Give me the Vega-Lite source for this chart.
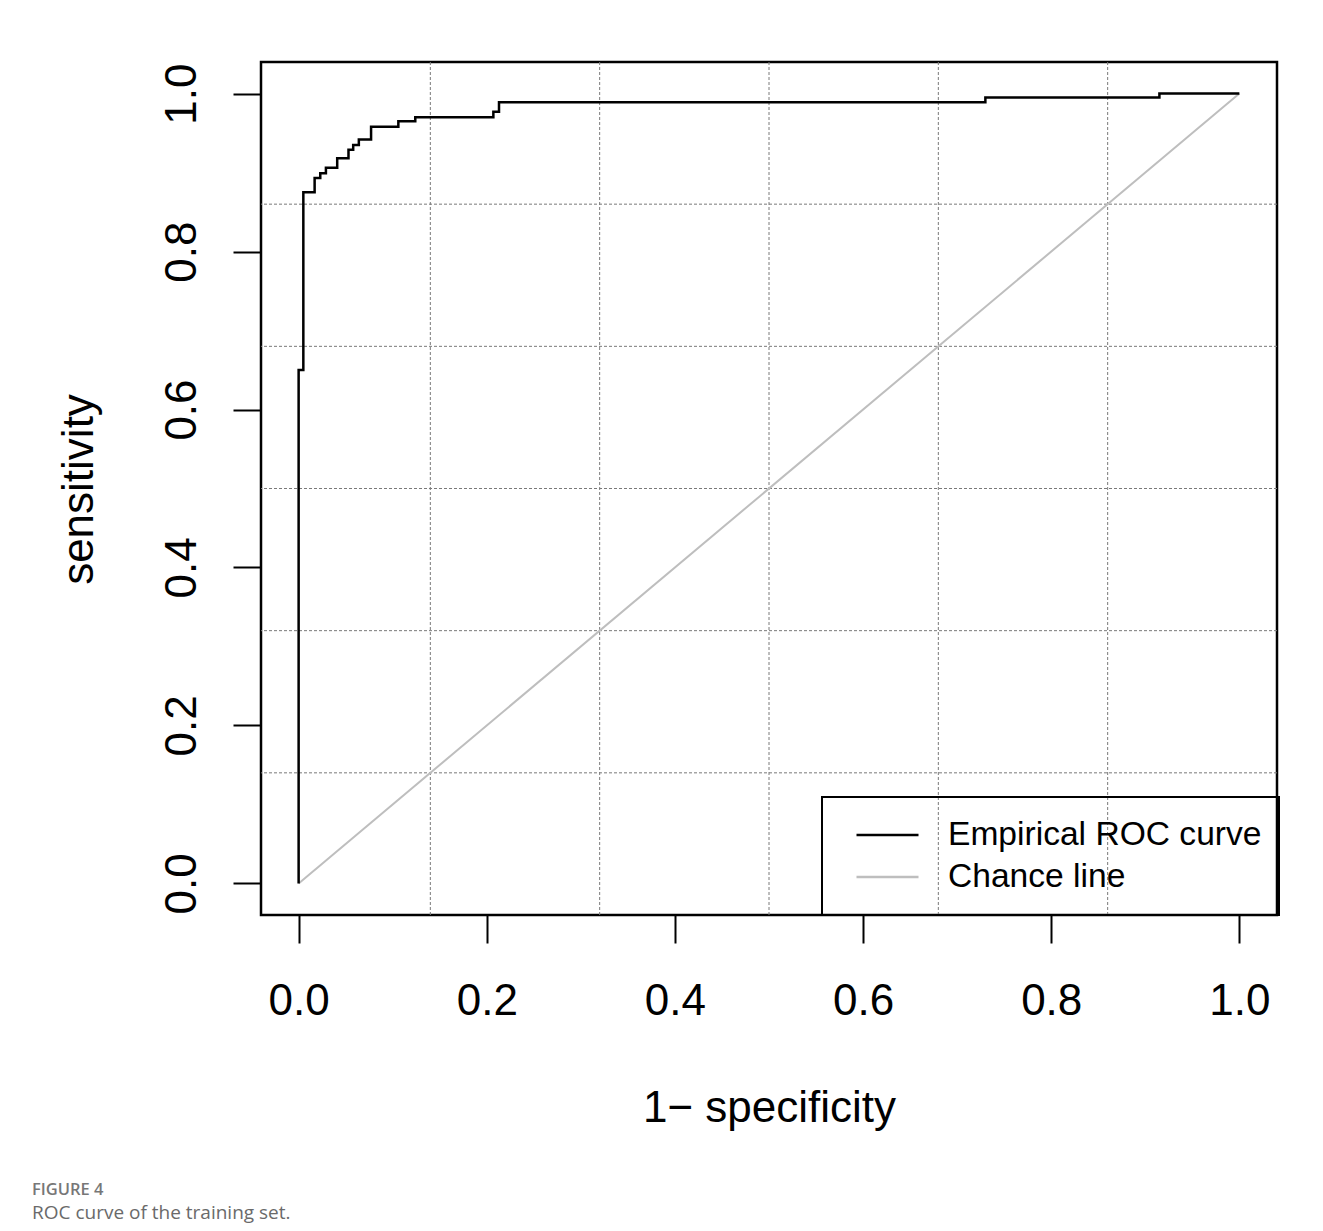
{
  "$schema": "https://vega.github.io/schema/vega-lite/v6.json",
  "autosize": {"type": "none"},
  "width": 1016,
  "height": 853,
  "padding": {"left": 261, "top": 62, "right": 46, "bottom": 316},
  "background": "white",
  "datasets": {
    "empirical": [
      {"step": 1, "fpr": 0, "tpr": 0, "series": "Empirical ROC curve"},
      {"step": 2, "fpr": 0, "tpr": 0.65, "series": "Empirical ROC curve"},
      {"step": 3, "fpr": 0.005, "tpr": 0.65, "series": "Empirical ROC curve"},
      {"step": 4, "fpr": 0.005, "tpr": 0.875, "series": "Empirical ROC curve"},
      {"step": 5, "fpr": 0.017, "tpr": 0.875, "series": "Empirical ROC curve"},
      {"step": 6, "fpr": 0.017, "tpr": 0.893, "series": "Empirical ROC curve"},
      {"step": 7, "fpr": 0.023, "tpr": 0.893, "series": "Empirical ROC curve"},
      {"step": 8, "fpr": 0.023, "tpr": 0.899, "series": "Empirical ROC curve"},
      {"step": 9, "fpr": 0.029, "tpr": 0.899, "series": "Empirical ROC curve"},
      {"step": 10, "fpr": 0.029, "tpr": 0.906, "series": "Empirical ROC curve"},
      {"step": 11, "fpr": 0.041, "tpr": 0.906, "series": "Empirical ROC curve"},
      {"step": 12, "fpr": 0.041, "tpr": 0.918, "series": "Empirical ROC curve"},
      {"step": 13, "fpr": 0.053, "tpr": 0.918, "series": "Empirical ROC curve"},
      {"step": 14, "fpr": 0.053, "tpr": 0.929, "series": "Empirical ROC curve"},
      {"step": 15, "fpr": 0.058, "tpr": 0.929, "series": "Empirical ROC curve"},
      {"step": 16, "fpr": 0.058, "tpr": 0.935, "series": "Empirical ROC curve"},
      {"step": 17, "fpr": 0.064, "tpr": 0.935, "series": "Empirical ROC curve"},
      {"step": 18, "fpr": 0.064, "tpr": 0.942, "series": "Empirical ROC curve"},
      {"step": 19, "fpr": 0.077, "tpr": 0.942, "series": "Empirical ROC curve"},
      {"step": 20, "fpr": 0.077, "tpr": 0.958, "series": "Empirical ROC curve"},
      {"step": 21, "fpr": 0.106, "tpr": 0.958, "series": "Empirical ROC curve"},
      {"step": 22, "fpr": 0.106, "tpr": 0.965, "series": "Empirical ROC curve"},
      {"step": 23, "fpr": 0.124, "tpr": 0.965, "series": "Empirical ROC curve"},
      {"step": 24, "fpr": 0.124, "tpr": 0.97, "series": "Empirical ROC curve"},
      {"step": 25, "fpr": 0.207, "tpr": 0.97, "series": "Empirical ROC curve"},
      {"step": 26, "fpr": 0.207, "tpr": 0.977, "series": "Empirical ROC curve"},
      {"step": 27, "fpr": 0.213, "tpr": 0.977, "series": "Empirical ROC curve"},
      {"step": 28, "fpr": 0.213, "tpr": 0.989, "series": "Empirical ROC curve"},
      {"step": 29, "fpr": 0.73, "tpr": 0.989, "series": "Empirical ROC curve"},
      {"step": 30, "fpr": 0.73, "tpr": 0.995, "series": "Empirical ROC curve"},
      {"step": 31, "fpr": 0.915, "tpr": 0.995, "series": "Empirical ROC curve"},
      {"step": 32, "fpr": 0.915, "tpr": 1, "series": "Empirical ROC curve"},
      {"step": 33, "fpr": 1, "tpr": 1, "series": "Empirical ROC curve"}
    ],
    "chance": [
      {"step": 1, "fpr": 0, "tpr": 0, "series": "Chance line"},
      {"step": 2, "fpr": 1, "tpr": 1, "series": "Chance line"}
    ],
    "grid": [
      {"g": 0.14}, {"g": 0.32}, {"g": 0.5}, {"g": 0.68}, {"g": 0.86}
    ]
  },
  "title": {
    "text": "FIGURE 4",
    "subtitle": "ROC curve of the training set.",
    "orient": "bottom",
    "anchor": "start",
    "frame": "group",
    "dx": -229,
    "offset": 52,
    "font": "Open Sans",
    "fontSize": 16.5,
    "fontWeight": 600,
    "color": "#777777",
    "subtitleFont": "Open Sans",
    "subtitleFontSize": 19,
    "subtitleFontWeight": "normal",
    "subtitleColor": "#6a6a6a",
    "subtitlePadding": 5
  },
  "layer": [
    {
      "data": {"name": "grid"},
      "mark": {"type": "rule", "color": "#7a7a7a", "strokeWidth": 1, "strokeDash": [3, 2]},
      "encoding": {
        "x": {"field": "g", "type": "quantitative", "title": "1− specificity"}
      }
    },
    {
      "data": {"name": "grid"},
      "mark": {"type": "rule", "color": "#7a7a7a", "strokeWidth": 1, "strokeDash": [3, 2]},
      "encoding": {
        "y": {"field": "g", "type": "quantitative", "title": "sensitivity"}
      }
    },
    {
      "data": {"name": "chance"},
      "mark": {"type": "line", "strokeWidth": 2, "clip": false},
      "encoding": {
        "x": {"field": "fpr", "type": "quantitative", "title": "1− specificity"},
        "y": {"field": "tpr", "type": "quantitative", "title": "sensitivity"},
        "order": {"field": "step"},
        "color": {"field": "series", "type": "nominal"}
      }
    },
    {
      "data": {"name": "empirical"},
      "mark": {"type": "line", "strokeWidth": 2.5, "clip": false},
      "encoding": {
        "x": {
          "field": "fpr", "type": "quantitative",
          "title": "1− specificity",
          "scale": {"domain": [-0.04, 1.04], "nice": false, "zero": false},
          "axis": {
            "values": [0, 0.2, 0.4, 0.6, 0.8, 1],
            "format": ".1f",
            "labelPadding": 36,
            "titleX": 508,
            "titleY": 206,
            "titleBaseline": "alphabetic",
            "titleAlign": "center"
          }
        },
        "y": {
          "field": "tpr", "type": "quantitative",
          "title": "sensitivity",
          "scale": {"domain": [-0.04, 1.04], "nice": false, "zero": false},
          "axis": {
            "values": [0, 0.2, 0.4, 0.6, 0.8, 1],
            "format": ".1f",
            "labelAngle": -90,
            "labelPadding": 29,
            "titleX": -169,
            "titleY": 427,
            "titleAngle": -90,
            "titleBaseline": "alphabetic",
            "titleAlign": "center"
          }
        },
        "order": {"field": "step"},
        "color": {
          "field": "series", "type": "nominal",
          "scale": {"domain": ["Empirical ROC curve", "Chance line"], "range": ["#000000", "#bebebe"]},
          "legend": {
            "title": null,
            "orient": "none",
            "legendX": 561,
            "legendY": 735,
            "strokeColor": "#000000",
            "padding": 17,
            "symbolType": "stroke",
            "symbolSize": 3844,
            "symbolStrokeWidth": 2.5,
            "symbolOffset": 16,
            "labelOffset": 28,
            "clipHeight": 42,
            "rowPadding": 0,
            "labelFont": "Liberation Sans",
            "labelFontSize": 33.6,
            "labelColor": "#000000",
            "labelLimit": 600,
            "encode": {"legend": {"update": {"strokeWidth": {"value": 2}}}}
          }
        }
      }
    }
  ],
  "config": {
    "view": {"stroke": "#000000", "strokeWidth": 2.5},
    "axis": {
      "domain": false,
      "grid": false,
      "ticks": true,
      "tickSize": 28,
      "tickWidth": 2,
      "tickColor": "#000000",
      "labelFont": "Liberation Sans",
      "labelFontSize": 44,
      "labelColor": "#000000",
      "labelFlush": false,
      "labelOverlap": false,
      "titleFont": "Liberation Sans",
      "titleFontSize": 44,
      "titleFontWeight": "normal",
      "titleColor": "#000000"
    }
  }
}
